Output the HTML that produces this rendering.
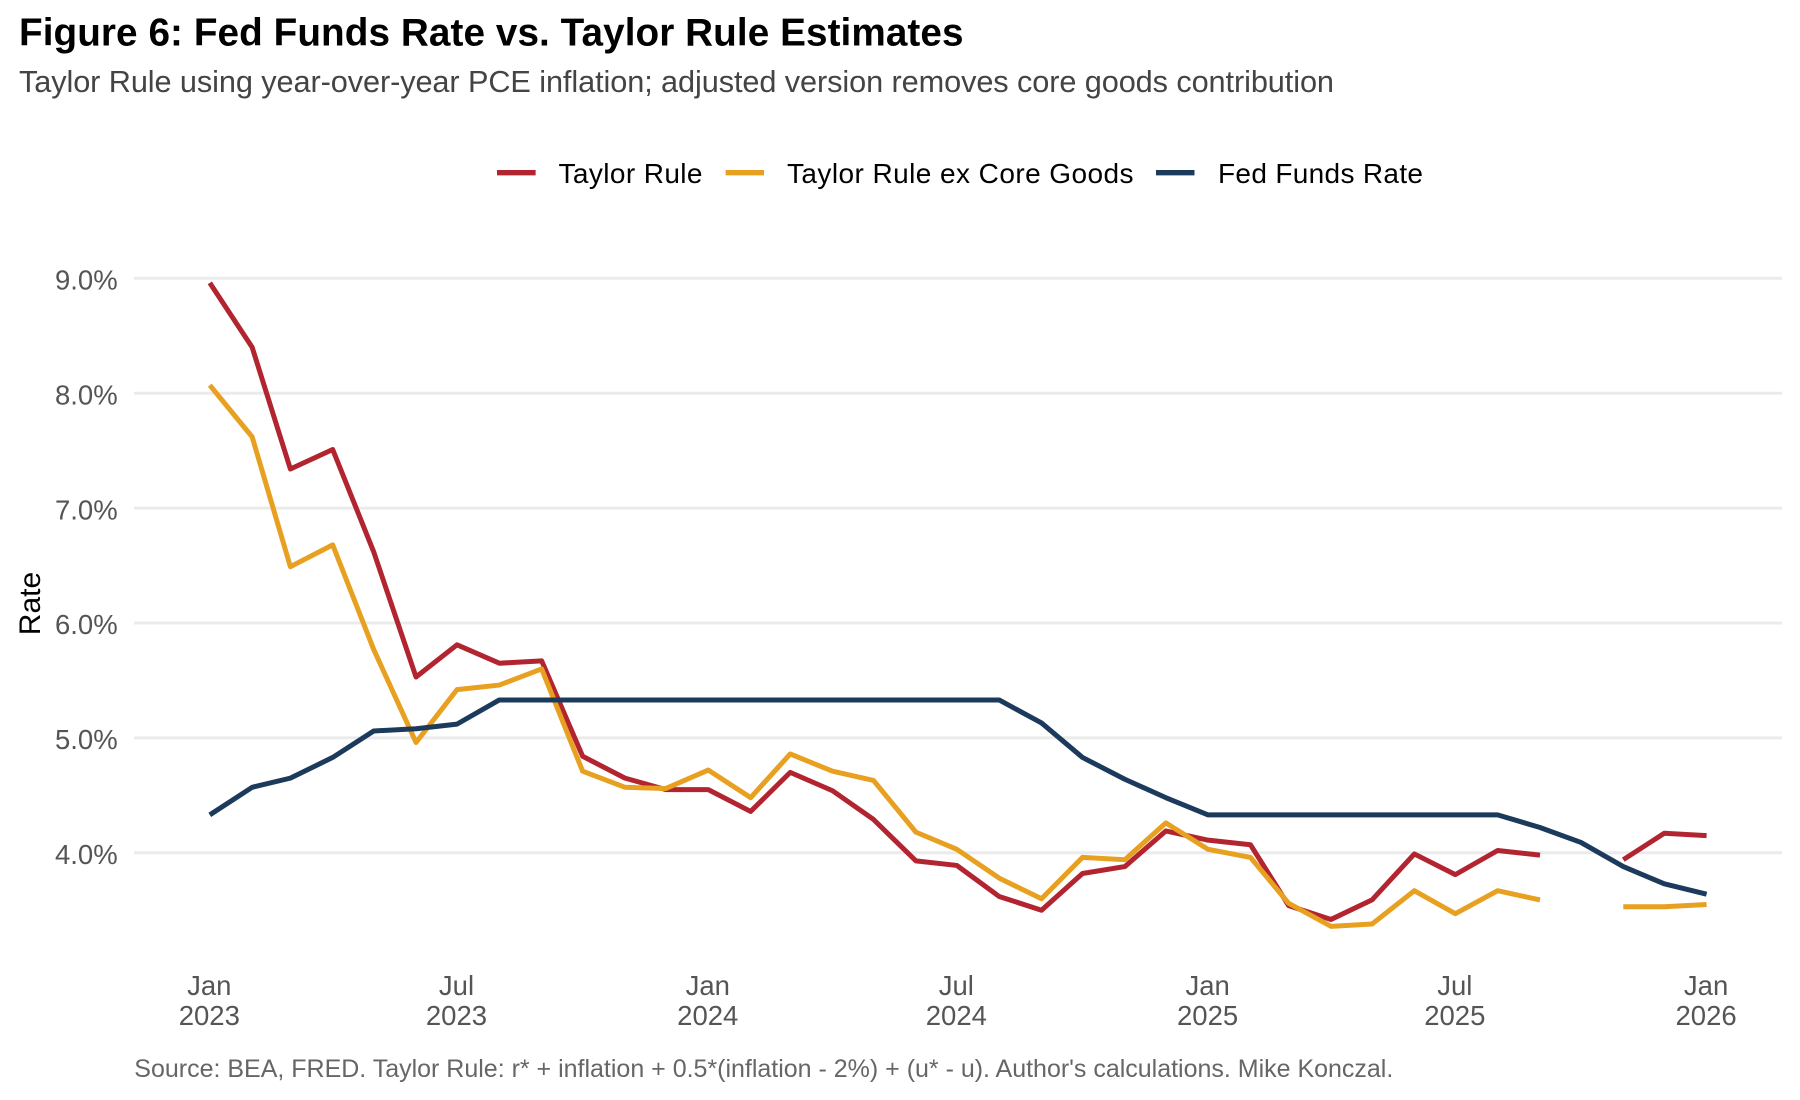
<!DOCTYPE html>
<html lang="en">
<head>
<meta charset="utf-8">
<title>Figure 6: Fed Funds Rate vs. Taylor Rule Estimates</title>
<style>
  html, body { margin: 0; padding: 0; background: #ffffff; }
  svg { display: block; font-family: "Liberation Sans", Arial, sans-serif; }
</style>
</head>
<body>
<svg id="chart" xmlns="http://www.w3.org/2000/svg" width="1800" height="1100" viewBox="0 0 1800 1100">
  <rect x="0" y="0" width="1800" height="1100" fill="#ffffff"/>
  <text x="19" y="45.5" font-size="38.7" font-weight="700" fill="#000000" textLength="944.5">Figure 6: Fed Funds Rate vs. Taylor Rule Estimates</text>
  <text x="19" y="92" font-size="30.7" fill="#444444" textLength="1315">Taylor Rule using year-over-year PCE inflation; adjusted version removes core goods contribution</text>

  <g>
    <g>
      <line x1="497" x2="535.6" y1="172.7" y2="172.7" stroke="#b22530" stroke-width="5.3"/>
      <text x="558.5" y="183" font-size="28" fill="#000000" textLength="144">Taylor Rule</text>
    </g>
    <g>
      <line x1="725.6" x2="764" y1="172.7" y2="172.7" stroke="#e8a020" stroke-width="5.3"/>
      <text x="787" y="183" font-size="28" fill="#000000" textLength="346.5">Taylor Rule ex Core Goods</text>
    </g>
    <g>
      <line x1="1156" x2="1194.5" y1="172.7" y2="172.7" stroke="#1b3a5c" stroke-width="5.3"/>
      <text x="1218" y="183" font-size="28" fill="#000000" textLength="205">Fed Funds Rate</text>
    </g>
  </g>

  <g id="grid"></g>
  <g id="y-ticks"></g>
  <g id="x-ticks"></g>
  <g id="series"></g>

  <text transform="translate(40 603.5) rotate(-90)" text-anchor="middle" font-size="30" fill="#000000">Rate</text>
  <text x="134.3" y="1077" font-size="25" fill="#666666" textLength="1259">Source: BEA, FRED. Taylor Rule: r* + inflation + 0.5*(inflation - 2%) + (u* - u). Author's calculations. Mike Konczal.</text>
</svg>

<script>
// Data. Months run Jan 2023 to Jan 2026; null marks the missing October 2025 reading.
const startYear = 2023;
const monthCount = 37;

const taylorRule = [
  8.96, 8.40, 7.34, 7.51, 6.62, 5.53, 5.81, 5.65, 5.67, 4.84, 4.65, 4.55,
  4.55, 4.36, 4.70, 4.54, 4.29, 3.93, 3.89, 3.62, 3.50, 3.82, 3.88, 4.19,
  4.11, 4.07, 3.54, 3.42, 3.59, 3.99, 3.81, 4.02, 3.98, null, 3.94, 4.17,
  4.15
];

const taylorExCoreGoods = [
  8.07, 7.62, 6.49, 6.68, 5.77, 4.96, 5.42, 5.46, 5.60, 4.71, 4.57, 4.56,
  4.72, 4.48, 4.86, 4.71, 4.63, 4.18, 4.03, 3.78, 3.60, 3.96, 3.94, 4.26,
  4.03, 3.96, 3.56, 3.36, 3.38, 3.67, 3.47, 3.67, 3.59, null, 3.53, 3.53,
  3.55
];

const fedFundsRate = [
  4.33, 4.57, 4.65, 4.83, 5.06, 5.08, 5.12, 5.33, 5.33, 5.33, 5.33, 5.33,
  5.33, 5.33, 5.33, 5.33, 5.33, 5.33, 5.33, 5.33, 5.13, 4.83, 4.64, 4.48,
  4.33, 4.33, 4.33, 4.33, 4.33, 4.33, 4.33, 4.33, 4.22, 4.09, 3.88, 3.73,
  3.64
];

const yTickValues = [4, 5, 6, 7, 8, 9];
const yTickLabels = ["4.0%", "5.0%", "6.0%", "7.0%", "8.0%", "9.0%"];
const xTickMonths = [0, 6, 12, 18, 24, 30, 36];
const xTickMonthLabels = ["Jan", "Jul", "Jan", "Jul", "Jan", "Jul", "Jan"];
const xTickYearLabels = ["2023", "2023", "2024", "2024", "2025", "2025", "2026"];

const SVG_NS = "http://www.w3.org/2000/svg";

function monthTime(index) {
  return Date.UTC(startYear, index, 1);
}

function xScale(index) {
  const t0 = monthTime(0);
  const t1 = monthTime(monthCount - 1);
  return 209.8 + (monthTime(index) - t0) / (t1 - t0) * (1706.6 - 209.8);
}

function yScale(value) {
  return 278.3 + (9 - value) * 114.9;
}

function seriesSegments(values) {
  const segments = [];
  let current = [];
  values.forEach(function (value, index) {
    if (value === null) {
      if (current.length) segments.push(current);
      current = [];
    } else {
      current.push(xScale(index).toFixed(2) + "," + yScale(value).toFixed(2));
    }
  });
  if (current.length) segments.push(current);
  return segments;
}

const gridGroup = document.getElementById("grid");
const yTickGroup = document.getElementById("y-ticks");
yTickValues.forEach(function (value, i) {
  const y = yScale(value);

  const gridLine = document.createElementNS(SVG_NS, "line");
  
  
  gridLine.setAttribute("x1", 134);
  gridLine.setAttribute("x2", 1782);
  gridLine.setAttribute("y1", y);
  gridLine.setAttribute("y2", y);
  gridLine.setAttribute("stroke", "#ebebeb");
  gridLine.setAttribute("stroke-width", 3);
  gridGroup.appendChild(gridLine);

  const label = document.createElementNS(SVG_NS, "text");
  
  
  label.setAttribute("x", 117.7);
  label.setAttribute("y", y + 11.2);
  label.setAttribute("text-anchor", "end");
  label.setAttribute("font-size", 27.5);
  label.setAttribute("fill", "#555555");
  label.textContent = yTickLabels[i];
  yTickGroup.appendChild(label);
});

const xTickGroup = document.getElementById("x-ticks");
xTickMonths.forEach(function (month, i) {
  const x = xScale(month) - 0.5;

  const monthLabel = document.createElementNS(SVG_NS, "text");
  
  
  monthLabel.setAttribute("x", x);
  monthLabel.setAttribute("y", 995);
  monthLabel.setAttribute("text-anchor", "middle");
  monthLabel.setAttribute("font-size", 27.5);
  monthLabel.setAttribute("fill", "#555555");
  monthLabel.textContent = xTickMonthLabels[i];
  xTickGroup.appendChild(monthLabel);

  const yearLabel = document.createElementNS(SVG_NS, "text");
  
  
  yearLabel.setAttribute("x", x);
  yearLabel.setAttribute("y", 1025);
  yearLabel.setAttribute("text-anchor", "middle");
  yearLabel.setAttribute("font-size", 27.5);
  yearLabel.setAttribute("fill", "#555555");
  yearLabel.textContent = xTickYearLabels[i];
  xTickGroup.appendChild(yearLabel);
});

const seriesGroup = document.getElementById("series");

seriesSegments(taylorRule).forEach(function (points) {
  const line = document.createElementNS(SVG_NS, "polyline");
  
  
  line.setAttribute("points", points.join(" "));
  line.setAttribute("fill", "none");
  line.setAttribute("stroke", "#b22530");
  line.setAttribute("stroke-width", 5);
  line.setAttribute("stroke-linejoin", "round");
  seriesGroup.appendChild(line);
});

seriesSegments(taylorExCoreGoods).forEach(function (points) {
  const line = document.createElementNS(SVG_NS, "polyline");
  
  
  line.setAttribute("points", points.join(" "));
  line.setAttribute("fill", "none");
  line.setAttribute("stroke", "#e8a020");
  line.setAttribute("stroke-width", 5);
  line.setAttribute("stroke-linejoin", "round");
  seriesGroup.appendChild(line);
});

seriesSegments(fedFundsRate).forEach(function (points) {
  const line = document.createElementNS(SVG_NS, "polyline");
  
  
  line.setAttribute("points", points.join(" "));
  line.setAttribute("fill", "none");
  line.setAttribute("stroke", "#1b3a5c");
  line.setAttribute("stroke-width", 5);
  line.setAttribute("stroke-linejoin", "round");
  seriesGroup.appendChild(line);
});
</script>
</body>
</html>
